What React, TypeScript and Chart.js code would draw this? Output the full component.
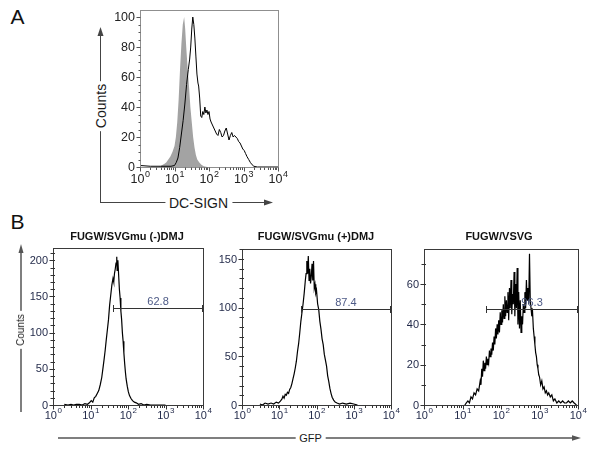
import React, { useEffect, useRef } from 'react';
import { Chart, registerables } from 'chart.js';

Chart.register(...registerables);

// ---------- DATA ----------
// Positions on the x axis are given in decades (log10 of fluorescence intensity).
// Panel A: isotype control (gray filled) and DC-SIGN staining (black line), counts scaled to max 100
const aControlDecades = [0.55, 0.62, 0.70, 0.76, 0.82, 0.88, 0.94, 1.00, 1.04, 1.08, 1.12, 1.16, 1.20, 1.24, 1.28, 1.31, 1.34, 1.38, 1.42, 1.46, 1.50, 1.54, 1.58, 1.62, 1.66, 1.72, 1.78, 1.85, 1.95];
const aControlCounts = [0, 1, 2, 3, 5, 7, 10, 14, 20, 30, 45, 65, 82, 95, 100, 92, 80, 66, 54, 40, 30, 20, 13, 8, 5, 3, 1.5, 0.5, 0];
const aStainDecades = [0.00, 0.30, 0.60, 0.90, 1.00, 1.05, 1.10, 1.15, 1.20, 1.25, 1.30, 1.35, 1.40, 1.44, 1.47, 1.50, 1.53, 1.56, 1.59, 1.62, 1.65, 1.68, 1.70, 1.73, 1.76, 1.79, 1.82, 1.85, 1.88, 1.91, 1.94, 1.97, 2.00, 2.03, 2.06, 2.10, 2.14, 2.18, 2.22, 2.26, 2.30, 2.34, 2.38, 2.42, 2.46, 2.50, 2.54, 2.58, 2.62, 2.66, 2.70, 2.74, 2.78, 2.82, 2.86, 2.90, 2.94, 2.98, 3.02, 3.06, 3.10, 3.15, 3.20, 3.25, 3.30, 3.40, 4.00];
const aStainCounts = [1, 0.5, 0.5, 0.5, 1, 3, 6, 13, 22, 31, 42, 55, 65, 72, 80, 92, 100, 95, 86, 74, 62, 56, 54, 46, 34, 33, 37, 35, 40, 36, 38, 35, 37, 32, 30, 28, 26, 24, 22, 21, 25, 23, 20, 21, 24, 26, 22, 18, 21, 23, 20, 21, 20, 19, 17, 16, 14, 12, 11, 9, 7, 5, 3, 1.5, 0.5, 0, 0];

// Panel B1: FUGW/SVGmu (-)DMJ
const b1Decades = [0.30, 0.40, 0.48, 0.55, 0.62, 0.70, 0.78, 0.85, 0.92, 0.97, 1.02, 1.06, 1.10, 1.14, 1.18, 1.22, 1.26, 1.30, 1.33, 1.36, 1.39, 1.42, 1.45, 1.48, 1.51, 1.54, 1.57, 1.60, 1.62, 1.64, 1.66, 1.68, 1.70, 1.71, 1.73, 1.75, 1.77, 1.79, 1.81, 1.83, 1.85, 1.87, 1.89, 1.91, 1.93, 1.95, 1.98, 2.01, 2.04, 2.08, 2.12, 2.17, 2.22, 2.28, 2.35, 2.42, 2.50, 2.60, 2.80, 3.00];
const b1Counts = [1, 0, 1, 0, 1, 1, 0, 2, 1, 3, 6, 4, 10, 12, 16, 20, 28, 38, 50, 62, 75, 90, 104, 118, 138, 152, 166, 175, 170, 182, 188, 196, 205, 186, 200, 180, 160, 148, 130, 118, 100, 88, 72, 58, 46, 36, 26, 18, 13, 9, 6, 4, 3, 1, 2, 0, 1, 0, 0, 0];

// Panel B2: FUGW/SVGmu (+)DMJ
const b2Decades = [0.48, 0.55, 0.62, 0.70, 0.78, 0.85, 0.92, 0.98, 1.03, 1.07, 1.10, 1.13, 1.16, 1.19, 1.22, 1.25, 1.28, 1.31, 1.34, 1.37, 1.40, 1.43, 1.46, 1.49, 1.52, 1.55, 1.58, 1.61, 1.64, 1.67, 1.70, 1.72, 1.74, 1.76, 1.78, 1.80, 1.82, 1.84, 1.86, 1.88, 1.90, 1.92, 1.94, 1.96, 1.98, 2.00, 2.03, 2.06, 2.09, 2.12, 2.15, 2.18, 2.21, 2.24, 2.27, 2.30, 2.33, 2.36, 2.39, 2.42, 2.46, 2.50, 2.55, 2.62, 2.70, 2.80, 2.90, 3.00, 3.10];
const b2Counts = [1, 0, 2, 1, 2, 1, 3, 2, 4, 6, 9, 7, 11, 10, 13, 12, 16, 18, 22, 27, 32, 38, 45, 55, 63, 74, 86, 95, 104, 115, 128, 135, 148, 135, 153, 128, 140, 125, 132, 145, 128, 148, 120, 124, 115, 118, 104, 98, 86, 78, 68, 62, 52, 46, 40, 30, 24, 17, 12, 8, 5, 3, 2, 1, 2, 1, 2, 1, 0];

// Panel B3: FUGW/VSVG
const b3Decades = [1.06, 1.10, 1.14, 1.18, 1.22, 1.26, 1.30, 1.34, 1.38, 1.42, 1.46, 1.48, 1.50, 1.52, 1.54, 1.56, 1.58, 1.60, 1.62, 1.64, 1.66, 1.68, 1.70, 1.72, 1.74, 1.76, 1.78, 1.80, 1.82, 1.84, 1.86, 1.88, 1.90, 1.92, 1.94, 1.96, 1.98, 2.00, 2.02, 2.04, 2.06, 2.08, 2.10, 2.12, 2.14, 2.16, 2.18, 2.20, 2.22, 2.24, 2.26, 2.28, 2.30, 2.32, 2.34, 2.36, 2.38, 2.40, 2.42, 2.44, 2.46, 2.48, 2.50, 2.52, 2.54, 2.56, 2.58, 2.60, 2.62, 2.64, 2.66, 2.68, 2.70, 2.72, 2.74, 2.76, 2.78, 2.80, 2.82, 2.84, 2.86, 2.88, 2.90, 2.92, 2.94, 2.96, 2.98, 3.00, 3.03, 3.06, 3.09, 3.12, 3.15, 3.18, 3.21, 3.24, 3.28, 3.32, 3.36, 3.40, 3.45, 3.50, 3.55, 3.60, 3.65, 3.70, 3.75, 3.80, 3.85, 3.90, 3.96];
const b3Counts = [0, 1, 2, 1, 4, 3, 6, 5, 8, 7, 12, 10, 18, 14, 22, 17, 21, 18, 24, 20, 23, 21, 27, 24, 28, 25, 31, 27, 34, 30, 38, 33, 40, 35, 42, 36, 46, 40, 47, 41, 50, 43, 54, 44, 52, 46, 56, 42, 58, 48, 62, 45, 55, 50, 66, 44, 60, 48, 68, 40, 56, 38, 52, 36, 44, 40, 50, 46, 56, 48, 62, 52, 58, 50, 75, 52, 48, 44, 46, 38, 34, 30, 26, 24, 20, 18, 15, 14, 10, 12, 8, 9, 6, 7, 5, 6, 4, 5, 2, 3, 1, 2, 1, 2, 1, 1, 2, 1, 2, 1, 0];

// Axis tick labels
const decadeExponents = ['0', '1', '2', '3', '4'];
const aYTicks = [0, 20, 40, 60, 80, 100];
const b1YTicks = [0, 50, 100, 150, 200];
const b2YTicks = [0, 50, 100, 150];
const b3YTicks = [0, 20, 40, 60];

// Gates (marker regions) of panel B
const gateLabels = ['62.8', '87.4', '96.3'];
const gateStarts = [40, 38, 41];
const gateEnd = 10000;
const gateLevels = [133.5, 99, 47.4];

const panelTitles = ['FUGW/SVGmu (-)DMJ', 'FUGW/SVGmu (+)DMJ', 'FUGW/VSVG'];

// ---------- DRAWING ----------
const FONT = "'Liberation Sans', Arial, Helvetica, sans-serif";

const axesPlugin = {
  id: 'flowAxes',
  afterDatasetsDraw(chart: any, _args: any, o: any) {
    const ctx: CanvasRenderingContext2D = chart.ctx;
    const { left, right, top, bottom } = chart.chartArea;
    const xs = chart.scales.x;
    const ys = chart.scales.y;
    ctx.save();
    ctx.lineWidth = 1;
    // frame
    ctx.strokeStyle = o.frameColor;
    ctx.strokeRect(Math.round(left) + 0.5, Math.round(top) + 0.5, Math.round(right - left), Math.round(bottom - top));

    // y ticks
    ctx.strokeStyle = o.tickColor;
    ctx.beginPath();
    const L = Math.round(left) + 0.5;
    for (let i = 0; i * o.yMinor <= ys.max + 1e-9; i++) {
      const v = i * o.yMinor;
      const py = Math.round(ys.getPixelForValue(v)) + 0.5;
      const major = o.yTicks.includes(v);
      ctx.moveTo(L - (major ? o.yMajorOut : o.yMinorOut), py);
      ctx.lineTo(L + o.yIn, py);
    }
    // x ticks
    const B = Math.round(bottom) + 0.5;
    for (let k = 0; k <= 4; k++) {
      for (let m = 1; m <= 9; m++) {
        if (k === 4 && m > 1) break;
        const px = Math.round(xs.getPixelForValue(m * Math.pow(10, k))) + 0.5;
        ctx.moveTo(px, B - o.xIn);
        ctx.lineTo(px, B + (m === 1 ? o.xMajorOut : o.xMinorOut));
      }
    }
    ctx.stroke();

    // y labels
    ctx.fillStyle = o.labelColor;
    ctx.font = `${o.labelSize}px ${FONT}`;
    ctx.textAlign = 'right';
    ctx.textBaseline = 'middle';
    for (const v of o.yTicks) {
      ctx.fillText(String(v), left - o.yLabelGap, ys.getPixelForValue(v) + 0.5);
    }
    // x labels 10^k
    ctx.textAlign = 'left';
    for (const e of decadeExponents) {
      const px = xs.getPixelForValue(Math.pow(10, Number(e)));
      ctx.font = `${o.labelSize}px ${FONT}`;
      const w1 = ctx.measureText('10').width;
      ctx.font = `${o.supSize}px ${FONT}`;
      const w2 = ctx.measureText(e).width;
      const x0 = px - (w1 + w2) / 2 + o.xLabelShift;
      const yBase = bottom + o.xLabelOffset;
      ctx.font = `${o.labelSize}px ${FONT}`;
      ctx.fillText('10', x0, yBase);
      ctx.font = `${o.supSize}px ${FONT}`;
      ctx.fillText(e, x0 + w1 + 0.5, yBase - o.supRaise);
    }

    // gate
    if (o.gate) {
      const g = o.gate;
      const gy = Math.round(ys.getPixelForValue(g.level)) + 0.5;
      const x1 = Math.round(xs.getPixelForValue(g.start)) + 0.5;
      const x2 = Math.round(xs.getPixelForValue(gateEnd)) - 0.5;
      ctx.strokeStyle = '#333';
      ctx.lineWidth = 1;
      ctx.beginPath();
      ctx.moveTo(x1, gy);
      ctx.lineTo(x2, gy);
      ctx.moveTo(x1, gy - 3.5);
      ctx.lineTo(x1, gy + 3.5);
      ctx.moveTo(x2, gy - 3.5);
      ctx.lineTo(x2, gy + 3.5);
      ctx.stroke();
      ctx.fillStyle = '#4d5a86';
      ctx.font = `11px ${FONT}`;
      ctx.textAlign = 'center';
      ctx.textBaseline = 'middle';
      ctx.fillText(g.label, xs.getPixelForValue(Math.sqrt(g.start * gateEnd)), gy - 6.5);
    }
    ctx.restore();
  },
};

function series(decades: number[], counts: number[]) {
  return decades.map((d, i) => ({ x: Math.pow(10, d), y: counts[i] }));
}

type Box = { left: number; top: number; width: number; height: number };
type Area = { left: number; top: number; right: number; bottom: number };

function FlowChart(props: { box: Box; area: Area; yMax: number; datasets: any[]; axes: any }) {
  const ref = useRef<HTMLCanvasElement>(null);
  const { box, area } = props;
  useEffect(() => {
    const chart = new Chart(ref.current as HTMLCanvasElement, {
      type: 'scatter',
      data: { datasets: props.datasets },
      options: {
        animation: false,
        responsive: false,
        devicePixelRatio: 1,
        events: [],
        layout: {
          padding: {
            left: area.left - box.left,
            top: area.top - box.top,
            right: box.left + box.width - area.right,
            bottom: box.top + box.height - area.bottom,
          },
        },
        plugins: {
          legend: { display: false },
          tooltip: { enabled: false },
          flowAxes: props.axes,
        } as any,
        scales: {
          x: { type: 'logarithmic', min: 1, max: 10000, display: false },
          y: { type: 'linear', min: 0, max: props.yMax, display: false },
        },
      },
      plugins: [axesPlugin as any],
    });
    return () => chart.destroy();
  }, []);
  return (
    <canvas
      ref={ref}
      width={box.width}
      height={box.height}
      style={{ position: 'absolute', left: box.left, top: box.top, width: box.width, height: box.height }}
    />
  );
}

function Text(props: { x: number; y: number; size: number; text: string; bold?: boolean; rotate?: boolean; bg?: boolean; color?: string; pad?: number }) {
  return (
    <div
      style={{
        position: 'absolute',
        left: props.x,
        top: props.y,
        transform: `translate(-50%, -50%)${props.rotate ? ' rotate(-90deg)' : ''}`,
        fontFamily: FONT,
        fontSize: props.size,
        fontWeight: props.bold ? 'bold' : 'normal',
        lineHeight: 1,
        whiteSpace: 'nowrap',
        color: props.color || '#1a1a1a',
        background: props.bg ? '#fff' : 'transparent',
        padding: props.bg ? `0 ${props.pad ?? 4}px` : 0,
      }}
    >
      {props.text}
    </div>
  );
}

const lineStyle = (width: number, color: string) => ({ stroke: color, strokeWidth: width });

export default function App() {
  const aAxes = {
    frameColor: '#8f8f8f', tickColor: '#555', labelColor: '#222', labelSize: 12.5, supSize: 9,
    yTicks: aYTicks, yMinor: 5, yMajorOut: 4, yMinorOut: 2, yIn: 0, yLabelGap: 5,
    xIn: 0, xMajorOut: 4, xMinorOut: 2.5, xLabelOffset: 12.5, supRaise: 5, xLabelShift: 0,
  };
  const bAxesBase = {
    frameColor: '#3a3a3a', tickColor: '#333', labelColor: '#1f2747', labelSize: 11, supSize: 8,
    yMinor: 10, yMajorOut: 4, yMinorOut: 3, yIn: 1.5, yLabelGap: 5,
    xIn: 0, xMajorOut: 4, xMinorOut: 2.5, xLabelOffset: 10.5, supRaise: 4.5, xLabelShift: 0,
  };
  const bLine = (decades: number[], counts: number[]) => ({
    data: series(decades, counts), showLine: true, borderColor: '#000', borderWidth: 1.2,
    pointRadius: 0, tension: 0, fill: false,
  });

  return (
    <div style={{ position: 'absolute', left: 0, top: 0, width: 600, height: 451, background: '#fff', overflow: 'hidden' }}>
      <svg width={600} height={451} style={{ position: 'absolute', left: 0, top: 0 }}>
        {/* Panel A axis arrows */}
        <line x1={100.5} y1={34} x2={100.5} y2={202.5} {...lineStyle(1, '#444')} />
        <polygon points="100.5,27 97.5,36 103.5,36" fill="#444" />
        <line x1={100} y1={202.5} x2={266} y2={202.5} {...lineStyle(1, '#444')} />
        <polygon points="273,202.5 264,199.5 264,205.5" fill="#444" />
        {/* Panel B axis arrows */}
        <line x1={21} y1={251} x2={21} y2={412} {...lineStyle(1.5, '#555')} />
        <polygon points="21,244 18.5,253 23.5,253" fill="#555" />
        <line x1={58} y1={438} x2={574} y2={438} {...lineStyle(1.5, '#555')} />
        <polygon points="581,438 572,435.3 572,440.7" fill="#555" />
      </svg>

      <FlowChart
        box={{ left: 110, top: 0, width: 180, height: 190 }}
        area={{ left: 140, top: 10, right: 278, bottom: 167 }}
        yMax={104.7}
        axes={aAxes}
        datasets={[
          { data: series(aStainDecades, aStainCounts), showLine: true, borderColor: '#000', borderWidth: 1, pointRadius: 0, tension: 0, fill: false },
          { data: series(aControlDecades, aControlCounts), showLine: true, borderColor: 'rgba(0,0,0,0)', backgroundColor: '#a3a3a3', borderWidth: 0, pointRadius: 0, tension: 0, fill: 'origin' },
        ]}
      />
      <FlowChart
        box={{ left: 25, top: 240, width: 190, height: 190 }}
        area={{ left: 53, top: 248, right: 203, bottom: 405 }}
        yMax={217}
        axes={{ ...bAxesBase, yTicks: b1YTicks, gate: { start: gateStarts[0], level: gateLevels[0], label: gateLabels[0] } }}
        datasets={[bLine(b1Decades, b1Counts)]}
      />
      <FlowChart
        box={{ left: 215, top: 240, width: 190, height: 190 }}
        area={{ left: 242, top: 249, right: 391, bottom: 405 }}
        yMax={160.3}
        axes={{ ...bAxesBase, yTicks: b2YTicks, gate: { start: gateStarts[1], level: gateLevels[1], label: gateLabels[1] } }}
        datasets={[bLine(b2Decades, b2Counts)]}
      />
      <FlowChart
        box={{ left: 400, top: 240, width: 195, height: 190 }}
        area={{ left: 424, top: 249, right: 578, bottom: 405 }}
        yMax={77.4}
        axes={{ ...bAxesBase, yTicks: b3YTicks, gate: { start: gateStarts[2], level: gateLevels[2], label: gateLabels[2] } }}
        datasets={[bLine(b3Decades, b3Counts)]}
      />

      <Text x={17.5} y={15.8} size={21} text="A" color="#111" />
      <Text x={17.5} y={221} size={21} text="B" color="#111" />
      <Text x={100.5} y={106} size={14} text="Counts" rotate bg pad={3} />
      <Text x={198.5} y={202.5} size={14} text="DC-SIGN" bg pad={4} />
      <Text x={21} y={330} size={10} text="Counts" rotate bg pad={3} />
      <Text x={310.5} y={438} size={11} text="GFP" bg pad={4} />
      <Text x={127} y={235.5} size={11} text={panelTitles[0]} bold color="#111" />
      <Text x={316} y={236} size={11} text={panelTitles[1]} bold color="#111" />
      <Text x={499} y={235.5} size={11} text={panelTitles[2]} bold color="#111" />
    </div>
  );
}
